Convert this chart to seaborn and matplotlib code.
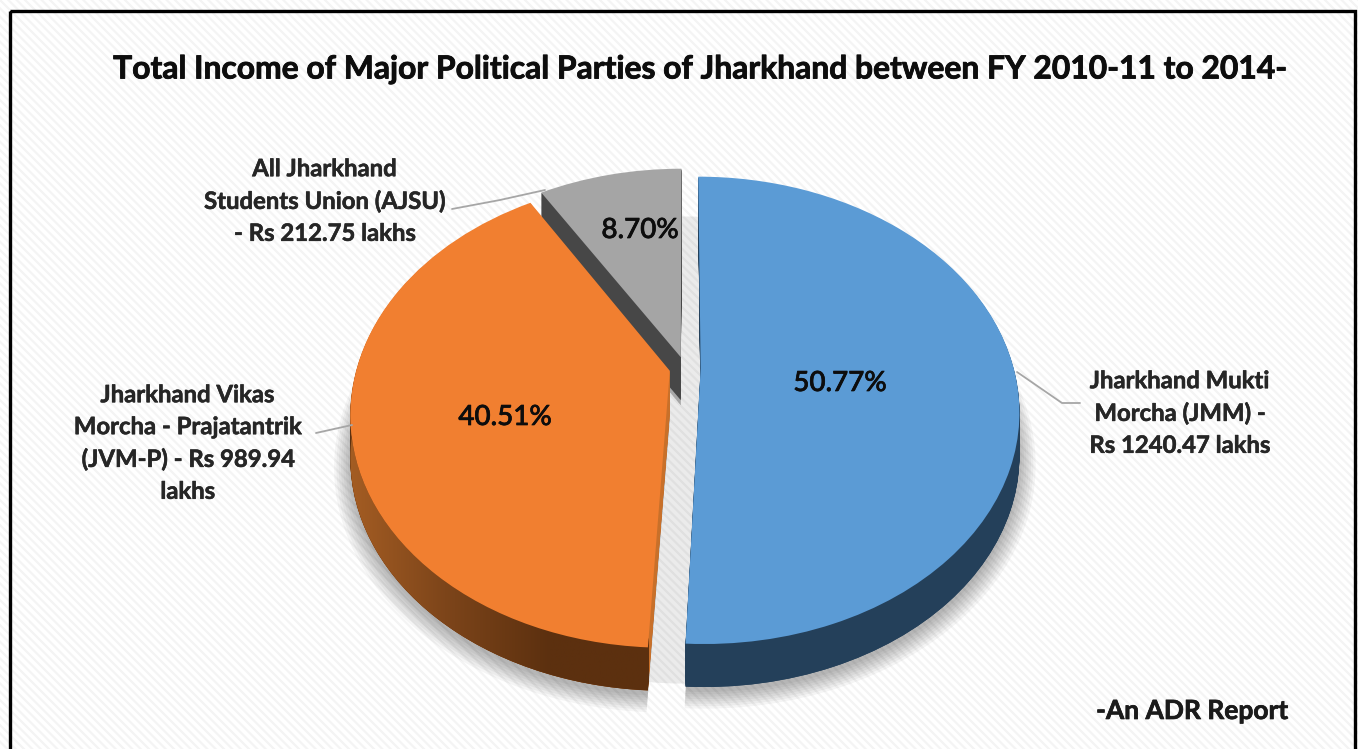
import numpy as np
import seaborn as sns
import matplotlib
matplotlib.use('Agg')
import matplotlib.pyplot as plt
import matplotlib.patheffects as pe
from matplotlib.colors import LinearSegmentedColormap
from matplotlib.patches import Rectangle
from matplotlib.path import Path
from matplotlib.transforms import Transform

parties = ['Jharkhand Mukti\nMorcha (JMM) -\nRs 1240.47 lakhs',
           'Jharkhand Vikas\nMorcha - Prajatantrik\n(JVM-P) - Rs 989.94\nlakhs',
           'All Jharkhand\nStudents Union (AJSU)\n- Rs 212.75 lakhs']
income = [1240.47, 989.94, 212.75]
percent = ['50.77%', '40.51%', '8.70%']
explode = [0.05, 0.05, 0.05]

top_colors = ['#5b9bd5', '#f17f30', '#a5a5a5']
side_colors = ['#24405a', '#c8702a', '#474747']
rim_colors = ['#24405a', '#5c300f', '#474747']
title = 'Total Income of Major Political Parties of Jharkhand between FY 2010-11 to 2014-'
note = '-An ADR Report'

W, H = 1358, 749
CX, CY, RX, RY, K = 685, 368, 313, 226, 0.18
DEPTH = 43


def project(xy, drop=0):
    # pie coords -> pixel coords, far side of the pie gets squeezed
    xy = np.asarray(xy, dtype=float)
    w = 1 + K * xy[:, 1]
    return np.column_stack([CX + RX * xy[:, 0] / w, CY - RY * xy[:, 1] / w + drop])


class Persp(Transform):
    input_dims = 2
    output_dims = 2
    is_separable = False
    has_inverse = False

    def __init__(self, drop=0):
        super().__init__()
        self.drop = drop

    def transform_non_affine(self, values):
        return project(values, self.drop)


sns.set_theme(style='white')
plt.rcParams['font.family'] = ['Lato', 'DejaVu Sans']
plt.rcParams['hatch.linewidth'] = 1.6
plt.rcParams['hatch.color'] = '#f4f4f4'

fig = plt.figure(figsize=(W / 100, H / 100), dpi=100)
ax = fig.add_axes([0, 0, 1, 1])


def pie_layer(colors, drop, base_z, gaps=explode, **props):
    wedges, _ = ax.pie(income, explode=gaps, colors=colors, startangle=90,
                       counterclock=False, labeldistance=None, normalize=True,
                       wedgeprops=dict(linewidth=0, **props))
    for i, wedge in enumerate(wedges):
        wedge.set_transform(Persp(drop) + ax.transData)
        wedge.set_zorder(10 * (3 - i) + base_z)
    return wedges


# soft shadow under the pie, the closed pie greys the gaps between slices
for i in range(8):
    for wedge in pie_layer(['#000000'] * 3, DEPTH + 5, 0, alpha=0.04):
        wedge.set_radius(1 + i * 0.007)
        wedge.set_zorder(2)
for wedge in pie_layer(['#000000'] * 3, DEPTH - 3, 0, gaps=[0, 0, 0], alpha=0.08):
    wedge.set_zorder(2)

# extruded body
for d in range(DEPTH, 0, -1):
    pie_layer(side_colors, d, 1)
    pie_layer(rim_colors, d, 2, width=0.03)

tops = pie_layer(top_colors, 0, 5)

# orange rim fades from mid brown to dark brown
orange = tops[1]
theta = np.radians(np.linspace(orange.theta1, orange.theta2, 200))
arc = np.column_stack([orange.center[0] + np.cos(theta), orange.center[1] + np.sin(theta)])
rim = np.vstack([project(arc), project(arc[::-1], DEPTH)])
cmap = LinearSegmentedColormap.from_list('rim', ['#a85f24', '#7d451a', '#5c300f', '#5c300f'])
im = ax.imshow(np.linspace(0, 1, 256).reshape(1, -1), cmap=cmap, aspect='auto',
               extent=(340, 655, 700, 400), zorder=24)
im.set_clip_path(Path(np.vstack([rim, rim[:1]])), transform=ax.transData)

ax.set_frame_on(True)
ax.set_aspect('auto')
ax.set_xlim(0, W)
ax.set_ylim(H, 0)
ax.set_xticks([])
ax.set_yticks([])
for s in ax.spines.values():
    s.set_visible(False)

ax.add_patch(Rectangle((0, 0), W, H, facecolor='white', edgecolor='#f4f4f4', hatch='\\\\\\\\',
                       linewidth=0, zorder=0))
ax.add_patch(Rectangle((9.5, 10.5), 1345, 760, facecolor='none', edgecolor='black',
                       linewidth=2.4, zorder=50))

# leader lines
line = dict(color='#a6a6a6', linewidth=1.3, zorder=35)
ax.plot([1017, 1062, 1080], [372, 403, 403], **line)
ax.plot([316, 352], [433, 425], **line)
ax.plot([452, 500, 545], [209, 200, 190], **line)


def heavy(width, color):
    return [pe.withStroke(linewidth=width, foreground=color)]


ax.text(699, 69, title, ha='center', va='center', fontsize=22.9, fontweight='bold', color='#0d0d0d',
        zorder=40, path_effects=heavy(0.6, '#0d0d0d'))
ax.text(1192, 711, note, ha='center', va='center', fontsize=19, fontweight='bold', color='#1a1a1a',
        zorder=40, path_effects=heavy(0.5, '#1a1a1a'))

txt = dict(ha='center', va='center', fontsize=17.2, fontweight='bold', color='#262626',
           linespacing=1.47, zorder=40, path_effects=heavy(0.4, '#262626'))
ax.text(1180, 413, parties[0], **txt)
ax.text(188, 443, parties[1], **txt)
ax.text(325, 201, parties[2], **txt)

pct = dict(ha='center', va='center', fontsize=20, color='#0d0d0d', zorder=40, fontweight='medium',
           path_effects=heavy(0.5, '#0d0d0d'))
ax.text(840, 383, percent[0], **pct)
ax.text(505, 417, percent[1], **pct)
ax.text(640, 230, percent[2], **pct)

fig.savefig('out.png', dpi=100)
